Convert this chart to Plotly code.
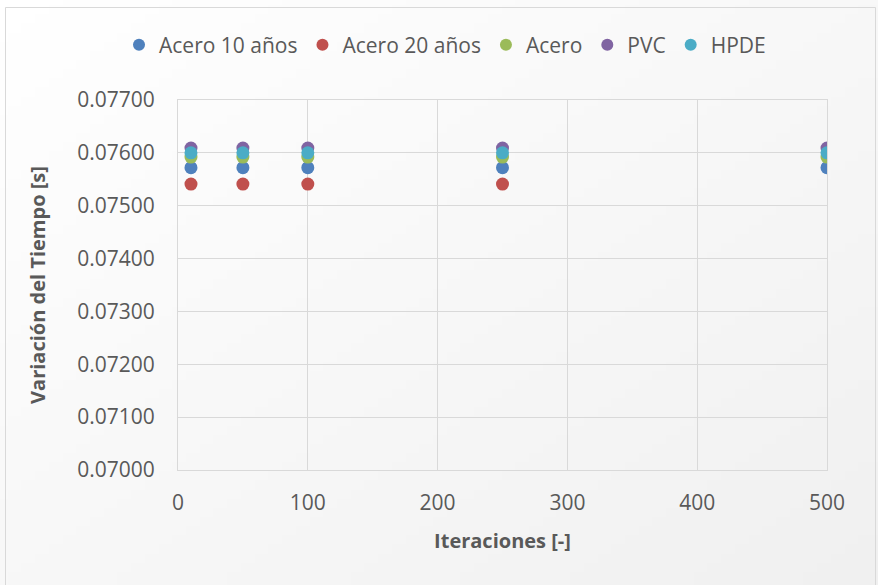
import base64, struct, zlib
import plotly.graph_objects as go

# ---- data ----
iteraciones = [10, 50, 100, 250, 500]
iteraciones_20 = [10, 50, 100, 250]
acero_10 = [0.07572, 0.07572, 0.07572, 0.07572, 0.07572]
acero_20 = [0.07541, 0.07541, 0.07541, 0.07541]
acero = [0.07592, 0.07592, 0.07592, 0.07592, 0.07592]
pvc = [0.07609, 0.07609, 0.07609, 0.07609, 0.07609]
hpde = [0.07600, 0.07600, 0.07600, 0.07600, 0.07600]
y_ticks = [0.070, 0.071, 0.072, 0.073, 0.074, 0.075, 0.076, 0.077]
x_ticks = [0, 100, 200, 300, 400, 500]

series = [
    ("Acero 10 años", iteraciones, acero_10, "#4F81BD"),
    ("Acero 20 años", iteraciones_20, acero_20, "#C0504D"),
    ("Acero", iteraciones, acero, "#9BBB59"),
    ("PVC", iteraciones, pvc, "#8064A2"),
    ("HPDE", iteraciones, hpde, "#4BACC6"),
]

# ---- gradient background png ----
def make_png(w, h):
    rows = []
    for j in range(h):
        row = bytearray([0])
        for i in range(w):
            t = (i / (w - 1) + j / (h - 1)) / 2
            v = int(round(255 - 15 * t))
            row += bytes([v, v, v])
        rows.append(bytes(row))
    raw = b"".join(rows)
    def chunk(tag, data):
        c = struct.pack(">I", len(data)) + tag + data
        return c + struct.pack(">I", zlib.crc32(tag + data) & 0xffffffff)
    png = b"\x89PNG\r\n\x1a\n"
    png += chunk(b"IHDR", struct.pack(">IIBBBBB", w, h, 8, 2, 0, 0, 0))
    png += chunk(b"IDAT", zlib.compress(raw, 9))
    png += chunk(b"IEND", b"")
    return "data:image/png;base64," + base64.b64encode(png).decode()

W, H = 878, 585
L, R, T, B = 178, 51, 100, 115
pw, ph = W - L - R, H - T - B
def px(x):
    return (x - L) / pw
def py(y):
    return (H - B - y) / ph

fig = go.Figure()
for name, xs, ys, col in series:
    fig.add_trace(go.Scatter(
        x=xs, y=ys, mode="markers", name=name,
        marker=dict(size=13, color=col, line=dict(width=0)),
    ))

font_col = "#595959"
grid_col = "#D9D9D9"
fig.update_layout(
    width=W, height=H,
    margin=dict(l=L, r=R, t=T, b=B),
    paper_bgcolor="white",
    plot_bgcolor="rgba(0,0,0,0)",
    font=dict(family="Open Sans", size=21, color=font_col),
    showlegend=True,
    legend=dict(
        orientation="h", x=px(445), xanchor="center", y=py(45), yanchor="middle",
        font=dict(size=21, color=font_col), bgcolor="rgba(0,0,0,0)",
        itemsizing="constant", tracegroupgap=0,
    ),
    images=[dict(
        source=make_png(64, 64), xref="paper", yref="paper",
        x=px(0), y=py(0), sizex=px(W) - px(0), sizey=py(0) - py(H),
        xanchor="left", yanchor="top", sizing="stretch", layer="below",
    )],
    shapes=[dict(
        type="rect", xref="paper", yref="paper",
        x0=px(5.5), x1=px(875.5), y0=py(7.5), y1=py(600),
        line=dict(color="#D9D9D9", width=1), fillcolor="rgba(0,0,0,0)",
        layer="below",
    )],
)
fig.update_xaxes(
    range=[0, 500], tickvals=x_ticks, showgrid=True, gridcolor=grid_col, gridwidth=1,
    showline=True, linecolor=grid_col, linewidth=1, mirror=True, zeroline=False,
    ticks="outside", ticklen=14, tickcolor="rgba(0,0,0,0)",
    tickfont=dict(size=21, color=font_col),
    title=dict(text="<b>Iteraciones [-]</b>", font=dict(size=20, color=font_col), standoff=18),
)
fig.update_yaxes(
    range=[0.070, 0.077], tickvals=y_ticks, tickformat=".5f",
    showgrid=True, gridcolor=grid_col, gridwidth=1,
    showline=True, linecolor=grid_col, linewidth=1, mirror=True, zeroline=False,
    ticks="outside", ticklen=18, tickcolor="rgba(0,0,0,0)",
    tickfont=dict(size=21, color=font_col),
    title=dict(text="<b>Variación del Tiempo [s]</b>", font=dict(size=20, color=font_col), standoff=26),
)

fig.write_html("out.html", config={"displayModeBar": False},
               post_script="document.body.style.margin='0';")
